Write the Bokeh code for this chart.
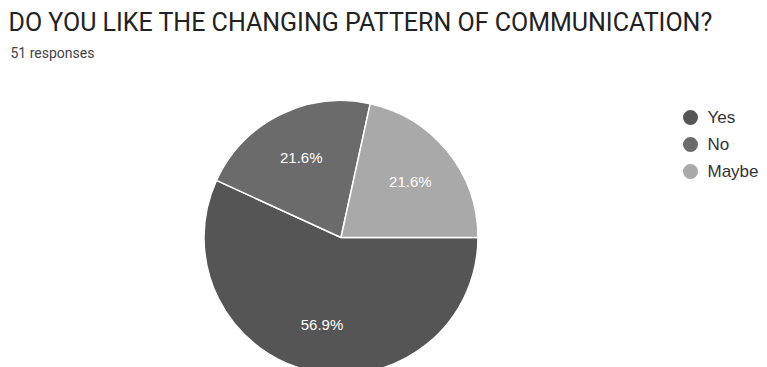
import numpy as np
from bokeh.plotting import figure
from bokeh.models import Range1d, ColumnDataSource
from bokeh.core.properties import value
from bokeh.embed import file_html
from bokeh.resources import INLINE

title = "DO YOU LIKE THE CHANGING PATTERN OF COMMUNICATION?"
subtitle = "51 responses"
categories = ["Yes", "No", "Maybe"]
percents = [56.9, 21.6, 21.6]
labels = ["56.9%", "21.6%", "21.6%"]
colors = ["#555555", "#6b6b6b", "#a9a9a9"]

W, H = 767, 367
p = figure(width=W, height=H, output_backend="svg", toolbar_location=None,
           x_range=Range1d(0, W), y_range=Range1d(0, H), min_border=0,
           outline_line_color=None, background_fill_color="white")
p.axis.visible = False
p.grid.visible = False

cx, cy, r = 340.5, H - 237, 137
frac = np.array(percents) / sum(percents)
cum = np.concatenate([[0], np.cumsum(frac)]) * 2 * np.pi
# clockwise from 3 o'clock
starts = -cum[1:]
ends = -cum[:-1]
mids = (starts + ends) / 2
src = ColumnDataSource(dict(start=starts, end=ends, color=colors,
                            lx=cx + 0.65 * r * np.cos(mids),
                            ly=cy + 0.65 * r * np.sin(mids), label=labels))
p.wedge(x=cx, y=cy, radius=r, start_angle="start", end_angle="end",
        fill_color="color", line_color="white", line_width=1.5, source=src)
p.text(x="lx", y="ly", text="label", source=src, text_color="white",
       text_font=value("Liberation Sans"), text_font_size="15px",
       text_align="center", text_baseline="middle")

# titles
p.text(x=[8], y=[H - 22], text=[title], text_font=value("Roboto"),
       text_font_size="25px", text_color="#222222", text_baseline="middle")
p.text(x=[10], y=[H - 52], text=[subtitle], text_font=value("Roboto"),
       text_font_size="14px", text_color="#444444", text_baseline="middle")

# legend
ly = [H - 117, H - 144, H - 171]
p.scatter(x=[690] * 3, y=ly, size=15, marker="circle", fill_color=colors,
          line_color=None)
p.text(x=[707] * 3, y=ly, text=categories, text_font=value("Liberation Sans"),
       text_font_size="17px", text_color="#333333", text_baseline="middle")

open("out.html", "w").write(file_html(p, INLINE))
